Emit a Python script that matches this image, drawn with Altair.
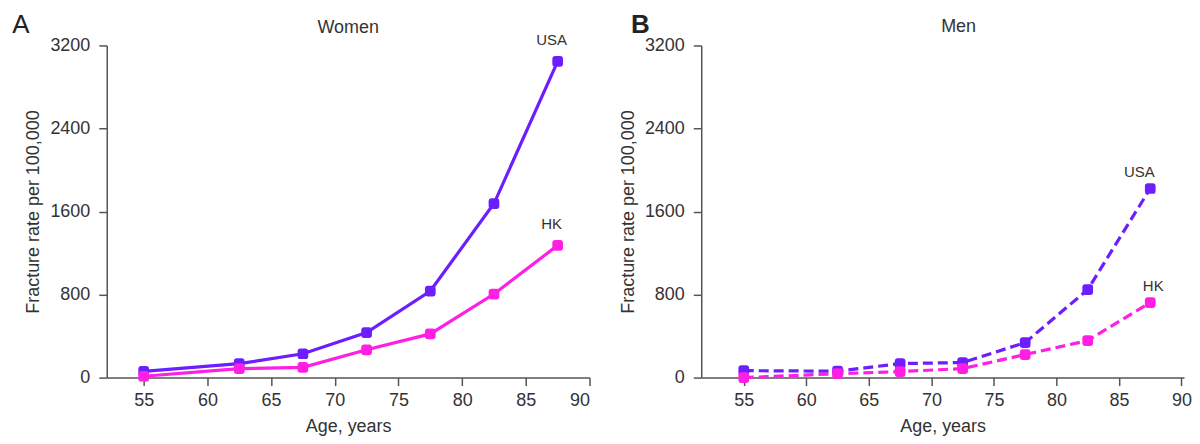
import altair as alt
import pandas as pd

ages = [55, 62.5, 67.5, 72.5, 77.5, 82.5, 87.5]
women_usa = [60, 134, 230, 434, 834, 1677, 3047]
women_hk = [13, 86, 99, 268, 421, 805, 1274]
men_usa = [67, 62, 135, 145, 337, 848, 1822]
men_hk = [0, 38, 58, 87, 222, 357, 723]
countries = ["USA", "HK"]
x_ticks = [55, 60, 65, 70, 75, 80, 85, 90]
y_ticks = [0, 800, 1600, 2400, 3200]

PURPLE = "#6C1EFF"
PINK = "#FF1EE4"
TXT = "#333333"
FONT = "Liberation Sans"
ROUNDED = ("M-1,-0.45 Q-1,-1 -0.45,-1 L0.45,-1 Q1,-1 1,-0.45 L1,0.45 "
           "Q1,1 0.45,1 L-0.45,1 Q-1,1 -1,0.45 Z")


def make_df(usa, hk):
    rows = []
    for c, vals in (("USA", usa), ("HK", hk)):
        for a, v in zip(ages, vals):
            rows.append({"age": a, "rate": v, "country": c})
    return pd.DataFrame(rows)


def panel(df, letter, title, domain, dash, lab_off, letter_pos, title_pos,
          letter_weight):
    W, H = 484, 333
    x = alt.X("age:Q",
              scale=alt.Scale(domain=domain, nice=False, zero=False),
              axis=alt.Axis(values=x_ticks, title="Age, years", grid=False,
                            labelPadding=6, titlePadding=8, format="d"))
    y = alt.Y("rate:Q", scale=alt.Scale(domain=[0, 3200], nice=False),
              axis=alt.Axis(values=y_ticks, title="Fracture rate per 100,000",
                            grid=False, labelPadding=9, titlePadding=7,
                            format="d"))
    color = alt.Color("country:N",
                      scale=alt.Scale(domain=countries, range=[PURPLE, PINK]),
                      legend=None)
    base = alt.Chart(df).encode(x=x, y=y, color=color)
    layers = []
    for c in countries:
        sub = base.transform_filter(alt.datum.country == c)
        line_kw = dict(strokeWidth=3.2)
        if dash:
            line_kw["strokeDash"] = dash
        layers.append(sub.mark_line(**line_kw))
        layers.append(sub.mark_point(shape=ROUNDED, filled=True, size=115,
                                     opacity=1))
    for c in countries:
        dx, dy = lab_off[c]
        layers.append(
            base.transform_filter((alt.datum.country == c) &
                                  (alt.datum.age == ages[-1]))
            .mark_text(dx=dx, dy=dy, fontSize=15, color=TXT, font=FONT)
            .encode(text="country:N", color=alt.value(TXT))
        )
    lx, ly = letter_pos
    layers.append(
        alt.Chart(pd.DataFrame({"t": [letter]})).mark_text(
            fontSize=26, color="#222222", font=FONT, fontWeight=letter_weight,
            align="center", baseline="middle")
        .encode(x=alt.value(lx), y=alt.value(ly), text="t:N")
    )
    tx, ty = title_pos
    layers.append(
        alt.Chart(pd.DataFrame({"t": [title]})).mark_text(
            fontSize=18, color=TXT, font=FONT, align="center",
            baseline="middle")
        .encode(x=alt.value(tx), y=alt.value(ty), text="t:N")
    )
    return alt.layer(*layers).properties(width=W, height=H)


women = make_df(women_usa, women_hk)
men = make_df(men_usa, men_hk)

pa = panel(women, "A", "Women", [52.1, 90], None,
           {"USA": (-6, -21), "HK": (-6, -21)}, (-86, -20), (242, -17),
           "normal")
pb = panel(men, "B", "Men", [51.6, 90.2], [10, 5],
           {"USA": (-11, -17), "HK": (3, -17)}, (-61, -20), (258, -18),
           "bold")

chart = alt.hconcat(pa, pb, spacing=28).properties(
    padding={"left": 4, "top": 4, "right": 0, "bottom": 0},
    background="white",
).configure_view(stroke=None).configure_axis(
    domainColor="#555555", tickColor="#555555", domainWidth=1.5,
    tickWidth=1.5, tickSize=8, labelFontSize=18, titleFontSize=18,
    labelColor=TXT, titleColor=TXT, labelFont=FONT, titleFont=FONT,
    titleFontWeight="normal"
)

chart.save("out.html", embed_options={"renderer": "svg", "actions": False})
